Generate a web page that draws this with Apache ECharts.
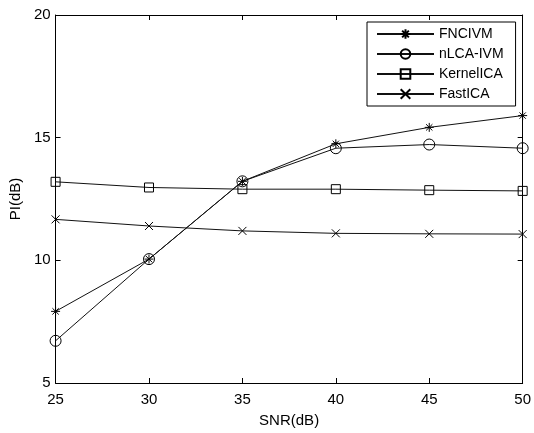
<!DOCTYPE html>
<html>
<head>
<meta charset="utf-8">
<script src="https://cdn.jsdelivr.net/npm/echarts@6/dist/echarts.min.js"></script>
<style>
  html, body { margin: 0; padding: 0; background: #fff; }
  #chart { width: 534px; height: 433px; }
</style>
</head>
<body>
<div id="chart"></div>
<script>
// data
const snr = [25, 30, 35, 40, 45, 50];
const fncivm = [7.92, 10.05, 13.22, 14.75, 15.42, 15.9];
const nlcaIvm = [6.72, 10.05, 13.22, 14.57, 14.72, 14.57];
const kernelIca = [13.2, 12.97, 12.9, 12.9, 12.86, 12.83];
const fastIca = [11.67, 11.4, 11.2, 11.1, 11.08, 11.07];
const seriesNames = ['FNCIVM', 'nLCA-IVM', 'KernelICA', 'FastICA'];

const FONT = '"Liberation Sans", Arial, sans-serif';
const starPath = 'path://M5 0 L5 10 M0 5 L10 5 M1.5 1.5 L8.5 8.5 M8.5 1.5 L1.5 8.5';
const crossPath = 'path://M0 0 L10 10 M10 0 L0 10';

function pairs(vals) {
  return snr.map((x, i) => [x, vals[i]]);
}

function makeSeries(name, vals, symbol, size) {
  return {
    name: name,
    type: 'line',
    data: pairs(vals),
    symbol: symbol,
    symbolSize: size,
    showAllSymbol: true,
    color: '#000',
    lineStyle: { color: '#111', width: 1 },
    itemStyle: { color: 'rgba(0,0,0,0)', borderColor: '#000', borderWidth: 1 },
    emphasis: { disabled: true },
    animation: false,
  };
}

const chart = echarts.init(document.getElementById('chart'));

const axisBase = {
  type: 'value',
  axisLine: { show: true, lineStyle: { color: '#000', width: 1 } },
  axisTick: { show: true, inside: true, length: 5, lineStyle: { color: '#000' } },
  splitLine: { show: false },
};

let option = {
  backgroundColor: '#fff',
  animation: false,
  grid: { left: 55, right: 10, top: 15, bottom: 47 },
  legend: {
    orient: 'vertical',
    left: 367,
    top: 22,
    padding: [5, 12, 5, 9],
    itemWidth: 57,
    itemHeight: 12,
    itemGap: 6,
    borderColor: '#000',
    borderWidth: 1,
    backgroundColor: '#fff',
    textStyle: { fontFamily: FONT, fontSize: 14, color: '#000' },
    data: seriesNames,
  },
  xAxis: [
    Object.assign({}, axisBase, {
      min: 25, max: 50, interval: 5,
      name: 'SNR(dB)',
      nameLocation: 'middle',
      nameGap: 30,
      nameTextStyle: { fontFamily: FONT, fontSize: 15, color: '#000' },
      axisLabel: { fontFamily: FONT, fontSize: 15, color: '#000', margin: 9 },
    }),
    Object.assign({}, axisBase, {
      position: 'top',
      min: 25, max: 50, interval: 5,
      axisLabel: { show: false },
    }),
  ],
  yAxis: [
    Object.assign({}, axisBase, {
      min: 5, max: 20, interval: 5,
      name: 'PI(dB)',
      nameLocation: 'middle',
      nameGap: 26,
      nameTextStyle: { fontFamily: FONT, fontSize: 15, color: '#000' },
      axisLabel: { fontFamily: FONT, fontSize: 15, color: '#000', margin: 5 },
    }),
    Object.assign({}, axisBase, {
      position: 'right',
      min: 5, max: 20, interval: 5,
      axisLabel: { show: false },
    }),
  ],
  series: [
    makeSeries('FNCIVM', fncivm, starPath, 9),
    makeSeries('nLCA-IVM', nlcaIvm, 'circle', 11),
    makeSeries('KernelICA', kernelIca, 'rect', 9),
    makeSeries('FastICA', fastIca, crossPath, 8),
  ],
};

chart.setOption(option);
</script>
</body>
</html>
